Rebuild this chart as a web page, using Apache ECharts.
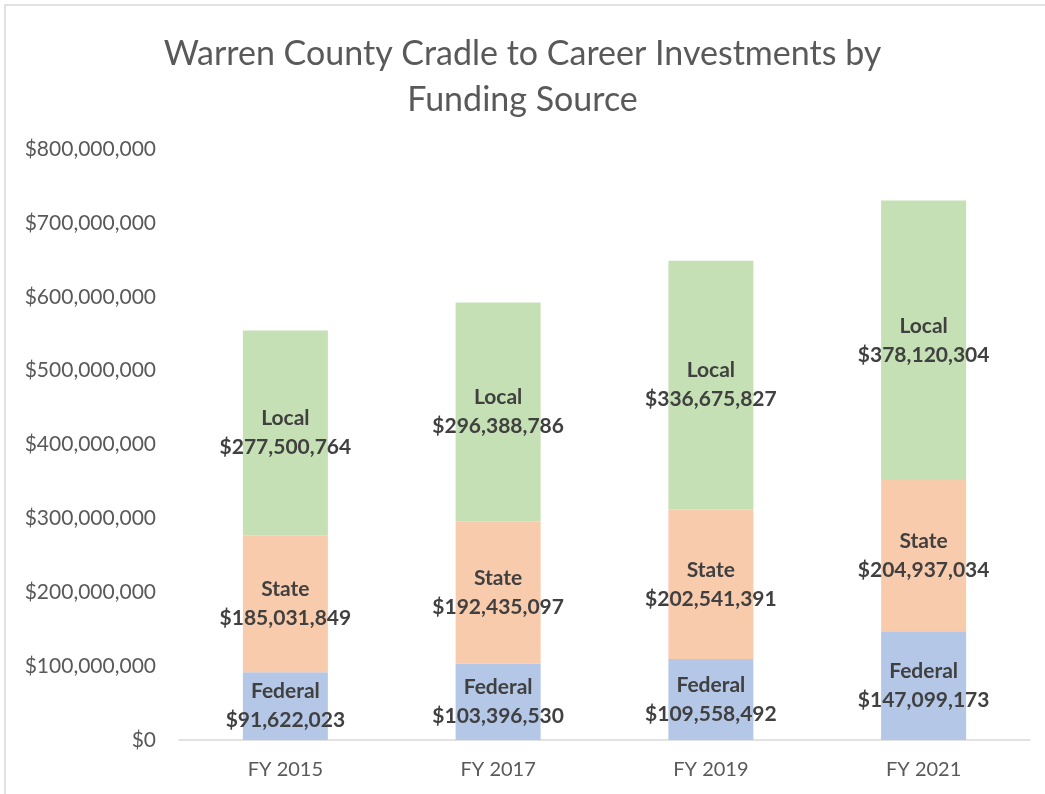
<!DOCTYPE html>
<html>
<head>
<meta charset="utf-8">
<style>
  html, body { margin: 0; padding: 0; background: #ffffff; }
  #chart { width: 1045px; height: 794px; }
</style>
<script src="https://cdn.jsdelivr.net/npm/echarts@6/dist/echarts.min.js"></script>
</head>
<body>
<div id="chart"></div>
<script>
// Funding by fiscal year, in dollars
const categories = ['FY 2015', 'FY 2017', 'FY 2019', 'FY 2021'];
const federal = [91622023, 103396530, 109558492, 147099173];
const state = [185031849, 192435097, 202541391, 204937034];
const local = [277500764, 296388786, 336675827, 378120304];
const seriesNames = ['Federal', 'State', 'Local'];
const seriesColors = ['#b4c7e7', '#f8cbad', '#c5e0b4'];

const money = v => '$' + Number(v).toLocaleString('en-US');
const FONT = 'Lato, "Open Sans", sans-serif';

const chart = echarts.init(document.getElementById('chart'));

const makeSeries = (name, data, color) => ({
  name: name,
  type: 'bar',
  stack: 'total',
  data: data,
  barWidth: 85,
  itemStyle: { color: color },
  label: {
    show: true,
    position: 'inside',
    formatter: p => p.seriesName + '\n' + money(p.value),
    color: '#404040',
    fontWeight: 'bold',
    fontSize: 21,
    lineHeight: 29,
    fontFamily: FONT
  }
});

chart.setOption({
  animation: false,
  backgroundColor: '#ffffff',
  title: {
    text: 'Warren County Cradle to Career Investments by\nFunding Source',
    left: 'center',
    top: 26,
    textStyle: {
      color: '#595959',
      fontSize: 34,
      fontWeight: 'normal',
      lineHeight: 46,
      fontFamily: FONT
    }
  },
  graphic: [{
    type: 'rect',
    shape: { x: 5, y: 5, width: 1060, height: 820 },
    style: { fill: 'none', stroke: '#d9d9d9', lineWidth: 1.5 },
    silent: true
  }],
  grid: { left: 179, right: 15, top: 149, bottom: 54, containLabel: false },
  xAxis: {
    type: 'category',
    data: categories,
    axisLine: { lineStyle: { color: '#d9d9d9', width: 1.5 } },
    axisTick: { show: false },
    axisLabel: { color: '#595959', fontSize: 20, margin: 20, fontFamily: FONT }
  },
  yAxis: {
    type: 'value',
    min: 0,
    max: 800000000,
    interval: 100000000,
    splitLine: { show: false },
    axisLine: { show: false },
    axisTick: { show: false },
    axisLabel: { color: '#595959', fontSize: 21, margin: 23, formatter: money, fontFamily: FONT }
  },
  series: [
    makeSeries(seriesNames[0], federal, seriesColors[0]),
    makeSeries(seriesNames[1], state, seriesColors[1]),
    makeSeries(seriesNames[2], local, seriesColors[2])
  ]
});
</script>
</body>
</html>
